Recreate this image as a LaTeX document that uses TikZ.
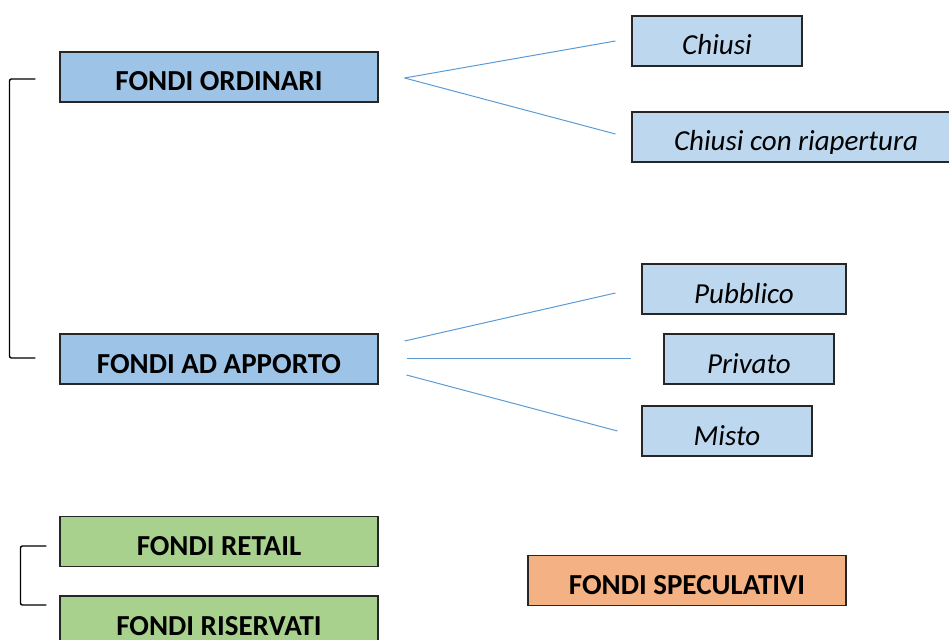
\documentclass[tikz,border=0pt]{standalone}
\usepackage{fontspec}
\setmainfont{Carlito}
\usetikzlibrary{calc}
\definecolor{mainblue}{HTML}{9DC3E6}
\definecolor{subblue}{HTML}{BDD7EE}
\definecolor{retailgreen}{HTML}{A9D18E}
\definecolor{specorange}{HTML}{F4B183}
\definecolor{linkblue}{HTML}{5B9BD5}
\definecolor{boxline}{HTML}{262626}
\begin{document}
\begin{tikzpicture}[x=1pt,y=-1pt,
  box/.style={draw=boxline, line width=1.1pt, inner sep=0pt,
    minimum height=50pt, text height=39pt, text depth=11pt},
  head/.style={box, font=\fontsize{29}{34}\selectfont\bfseries},
  sub/.style={box, fill=subblue, font=\fontsize{29}{34}\selectfont\itshape},
  link/.style={draw=linkblue, line width=1pt},
  brace/.style={draw=black, line width=1.4pt, rounded corners=2pt}]
\useasboundingbox (0,0) rectangle (949,639);
\clip (0,0) rectangle (949,639);

% main categories
\node[head, fill=mainblue, minimum width=318pt] (ord) at (219,77) {FONDI ORDINARI};
\node[head, fill=mainblue, minimum width=318pt] (app) at (219,359) {FONDI AD APPORTO};
\node[head, fill=retailgreen, minimum width=318pt] (ret) at (219,541.5) {FONDI RETAIL};
\node[head, fill=retailgreen, minimum width=318pt] (ris) at (219,621) {FONDI RISERVATI};
\node[head, fill=specorange, minimum width=318pt] (spec) at (687,580.5) {FONDI SPECULATIVI};

% sub-types
\node[sub, minimum width=170pt] (chiusi) at (717,41) {Chiusi};
% text frame of this box cuts the descenders
\node[box, fill=subblue, minimum width=328pt, minimum height=50pt, text height=0pt, text depth=0pt,
  path picture={
    \clip (path picture bounding box.north west) rectangle ($(path picture bounding box.south east)+(0,-8)$);
    \node[anchor=base, inner sep=0pt, font=\fontsize{29}{34}\selectfont\itshape]
      (crtext) at ($(path picture bounding box.south)+(0,-11)$) {Chiusi con riapertura};}]
  (cr) at (796,137) {};
\node[sub, minimum width=204pt] (pub) at (744,289) {Pubblico};
\node[sub, minimum width=170pt] (priv) at (749,359) {Privato};
\node[sub, minimum width=170pt] (misto) at (727,431) {Misto};

% brackets
\draw[brace] ($(ord.west)+(-24,2)$) -- ++(-26,0) |- ($(app.west)+(-24,-1)$);
\draw[brace] ($(ret.west)+(-13,4.5)$) -- ++(-26,0) |- ($(ris.west)+(-13,-16)$);

% branches
\draw[link] ($(ord.east)+(26,1)$) -- ($(chiusi.west)+(-16,0)$);
\draw[link] ($(ord.east)+(26,1)$) -- ($(cr.west)+(-16,-3)$);
\draw[link] ($(app.east)+(26,-18)$) -- ($(pub.west)+(-26,4)$);
\draw[link] ($(app.east)+(28,-1)$) -- ($(priv.west)+(-32,-1)$);
\draw[link] ($(app.east)+(28,16)$) -- ($(misto.west)+(-24,0)$);
\end{tikzpicture}
\end{document}
